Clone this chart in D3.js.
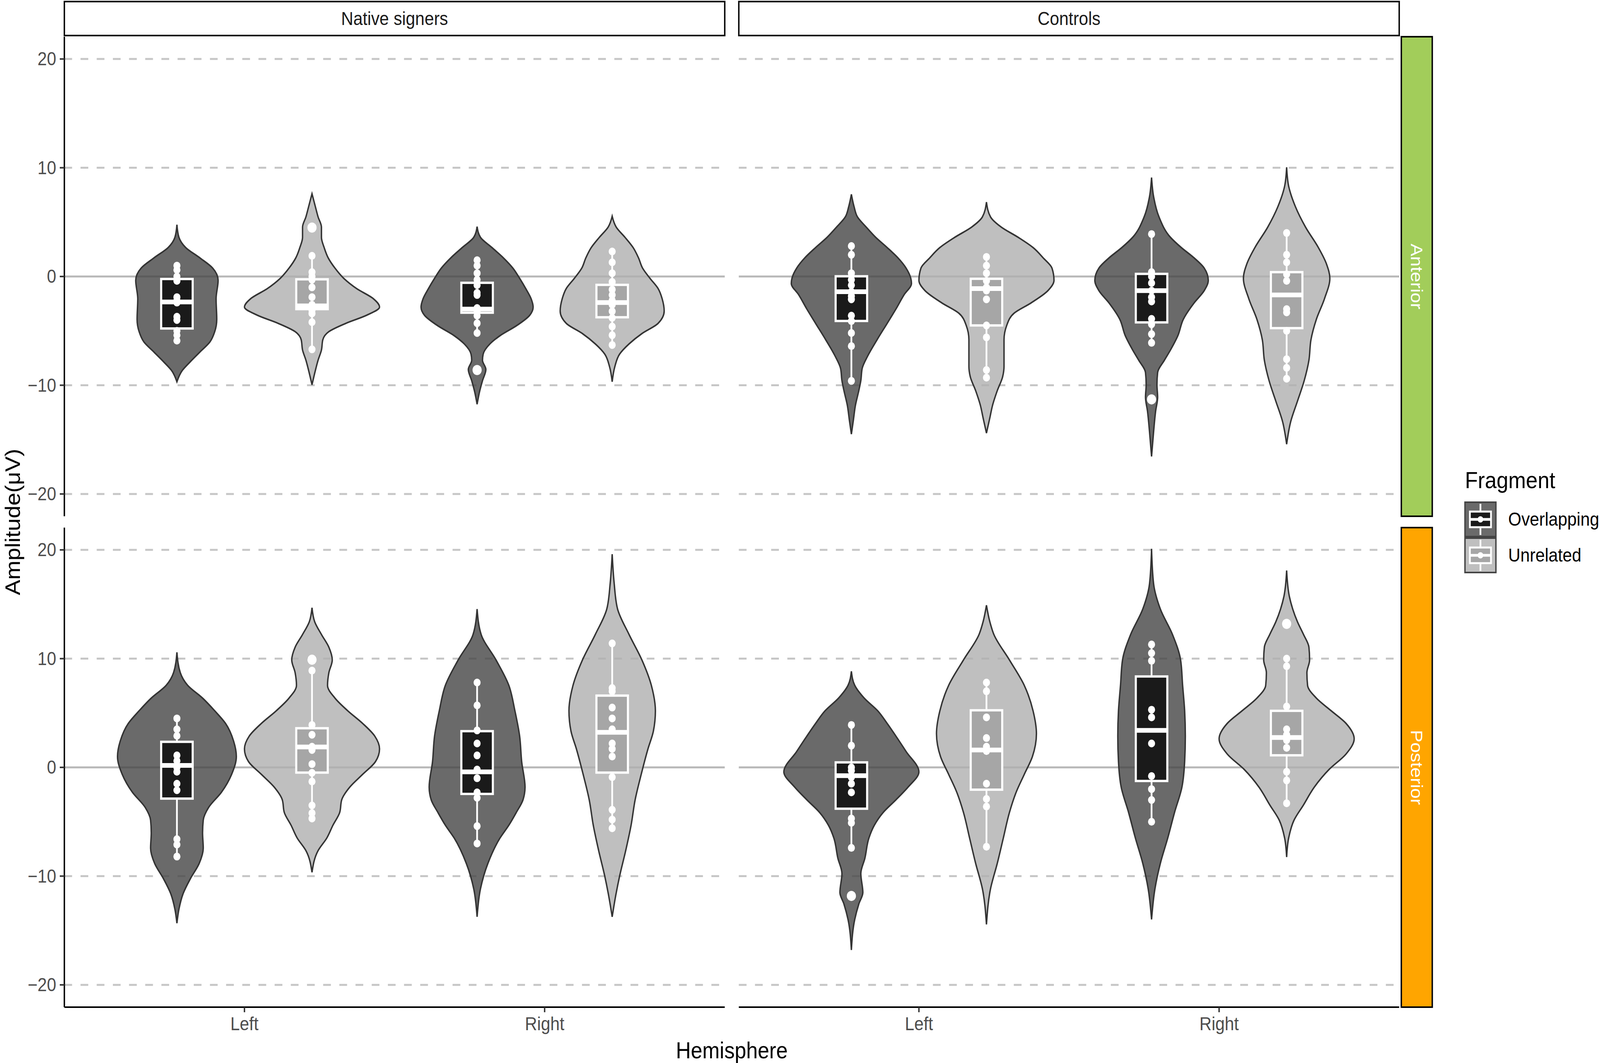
<!DOCTYPE html>
<html lang="en">
<head>
<meta charset="UTF-8">
<title>Amplitude by hemisphere, fragment and group</title>
<script src="https://d3js.org/d3.v7.min.js"></script>
<style>
  html, body { margin: 0; padding: 0; background: #fff; overflow: hidden; }
  svg { display: block; width: 100vw; height: 100vh; font-family: "Liberation Sans", Arial, Helvetica, sans-serif; }
</style>
</head>
<body>
<svg id="chart" viewBox="0 0 4550 2722" preserveAspectRatio="none"></svg>
<script>
// facets and categories
const groups = ["Native signers", "Controls"];
const regions = ["Anterior", "Posterior"];
const hemispheres = ["Left", "Right"];
const fragments = ["Overlapping", "Unrelated"];
const yTicks = [-20, -10, 0, 10, 20];

// violin outlines: [amplitude, relative density 0..1], top to bottom
// order: region, group, hemisphere, fragment
const violins = [
  // Anterior / Native signers
  [[4.76,0],[3.6,0.03],[2.66,0.13],[1.71,0.34],[0.77,0.53],[-0.36,0.61],[-2.05,0.58],[-3.94,0.59],[-5.07,0.56],[-6.01,0.49],[-6.95,0.34],[-7.89,0.19],[-8.64,0.08],[-9.68,0]],
  [[7.61,0],[6.42,0.05],[5.48,0.09],[4.54,0.14],[3.6,0.14],[2.66,0.18],[1.71,0.24],[0.77,0.34],[-0.17,0.47],[-1.11,0.66],[-2.05,0.91],[-2.81,1.0],[-3.56,0.81],[-4.31,0.5],[-5.07,0.25],[-5.82,0.16],[-6.76,0.14],[-7.7,0.09],[-8.64,0.05],[-9.96,0]],
  [[4.58,0],[3.6,0.05],[2.66,0.22],[1.71,0.39],[0.77,0.53],[-0.17,0.63],[-1.11,0.72],[-2.05,0.8],[-2.81,0.83],[-3.56,0.78],[-4.5,0.59],[-5.44,0.34],[-6.2,0.19],[-7.14,0.09],[-7.7,0.08],[-8.55,0.13],[-9.58,0.08],[-10.5,0.04],[-11.75,0]],
  [[5.54,0],[4.54,0.06],[3.6,0.19],[2.66,0.31],[1.71,0.39],[0.77,0.45],[-0.17,0.56],[-1.11,0.68],[-2.05,0.74],[-3.18,0.77],[-4.31,0.68],[-5.25,0.44],[-6.2,0.25],[-7.14,0.11],[-8.27,0.04],[-9.68,0]],
  // Anterior / Controls
  [[7.55,0],[6.42,0.04],[5.48,0.09],[4.54,0.22],[3.6,0.36],[2.66,0.53],[1.71,0.69],[0.77,0.81],[-0.17,0.88],[-0.64,0.89],[-1.68,0.78],[-2.99,0.66],[-4.31,0.53],[-5.82,0.38],[-7.33,0.24],[-8.46,0.16],[-9.58,0.14],[-10.5,0.11],[-11.85,0.06],[-13.2,0.03],[-14.5,0]],
  [[6.84,0],[5.48,0.06],[4.54,0.22],[3.6,0.47],[2.66,0.69],[1.71,0.84],[0.77,0.97],[-0.36,1.0],[-1.3,0.91],[-2.43,0.66],[-3.37,0.41],[-4.5,0.3],[-5.82,0.26],[-6.95,0.26],[-8.27,0.26],[-9.21,0.24],[-10.5,0.16],[-11.85,0.09],[-13.0,0.05],[-14.4,0]],
  [[9.1,0],[7.36,0.03],[5.48,0.11],[3.6,0.28],[2.66,0.44],[1.71,0.63],[0.77,0.78],[-0.36,0.84],[-1.3,0.78],[-2.43,0.63],[-3.94,0.47],[-5.44,0.39],[-6.76,0.28],[-7.7,0.19],[-8.83,0.09],[-9.96,0.08],[-11.1,0.09],[-12.4,0.06],[-14.3,0.03],[-16.55,0]],
  [[10.04,0],[8.3,0.03],[6.42,0.13],[4.54,0.28],[2.66,0.47],[1.15,0.59],[-0.17,0.64],[-2.05,0.56],[-3.94,0.44],[-5.82,0.36],[-7.7,0.33],[-9.58,0.26],[-11.47,0.16],[-13.35,0.06],[-15.42,0]],
  // Posterior / Native signers
  [[10.58,0],[8.71,0.05],[7.54,0.16],[6.37,0.38],[5.2,0.56],[4.04,0.72],[2.4,0.84],[1.0,0.88],[-0.64,0.81],[-2.28,0.66],[-3.68,0.47],[-4.85,0.39],[-6.02,0.38],[-7.43,0.39],[-8.83,0.33],[-10.23,0.2],[-11.64,0.09],[-13.04,0.03],[-14.33,0]],
  [[14.68,0],[13.39,0.04],[12.22,0.14],[11.05,0.25],[9.88,0.3],[8.71,0.25],[7.54,0.23],[6.37,0.34],[5.2,0.53],[4.04,0.75],[2.87,0.93],[1.7,1.0],[0.53,0.94],[-0.64,0.75],[-1.81,0.56],[-2.98,0.44],[-4.15,0.41],[-5.32,0.31],[-6.49,0.22],[-7.66,0.09],[-9.65,0]],
  [[14.56,0],[12.22,0.06],[9.88,0.28],[7.54,0.47],[5.2,0.56],[2.87,0.63],[0.53,0.66],[-1.81,0.71],[-2.98,0.68],[-4.15,0.58],[-5.32,0.47],[-6.49,0.34],[-8.83,0.16],[-11.17,0.05],[-13.74,0]],
  [[19.6,0],[16.9,0.03],[14.56,0.08],[12.22,0.25],[9.88,0.44],[7.54,0.58],[5.2,0.64],[3.33,0.61],[1.7,0.53],[-0.64,0.43],[-2.98,0.34],[-5.32,0.28],[-7.66,0.2],[-10.0,0.11],[-11.87,0.05],[-13.74,0]],
  // Posterior / Controls
  [[8.83,0],[7.54,0.05],[6.37,0.19],[5.2,0.39],[4.04,0.53],[2.87,0.66],[1.46,0.81],[-0.41,1.0],[-1.81,0.84],[-2.98,0.66],[-4.15,0.47],[-5.32,0.34],[-6.49,0.26],[-8.36,0.2],[-9.76,0.14],[-11.5,0.17],[-12.57,0.11],[-13.98,0.05],[-16.79,0]],
  [[14.91,0],[13.39,0.05],[12.22,0.11],[9.88,0.34],[7.54,0.56],[5.2,0.69],[3.1,0.74],[0.99,0.68],[-0.64,0.56],[-2.28,0.44],[-4.15,0.34],[-6.49,0.25],[-8.83,0.16],[-11.17,0.06],[-14.44,0]],
  [[20.1,0],[16.9,0.03],[14.56,0.13],[12.22,0.31],[9.88,0.43],[7.54,0.46],[5.2,0.49],[2.87,0.5],[0.53,0.49],[-1.81,0.45],[-4.15,0.34],[-6.49,0.24],[-8.83,0.13],[-11.17,0.05],[-13.98,0]],
  [[18.1,0],[15.73,0.04],[14.56,0.09],[13.39,0.16],[12.22,0.25],[11.05,0.33],[9.88,0.34],[8.71,0.3],[7.54,0.31],[6.37,0.44],[5.2,0.66],[4.04,0.88],[2.63,1.0],[1.23,0.88],[-0.18,0.63],[-1.81,0.41],[-3.45,0.25],[-4.85,0.11],[-6.49,0.03],[-8.25,0]]
];

// box plots: [lower whisker, Q1, median, Q3, upper whisker]
const boxStats = [
  [-6.0, -4.78, -2.34, -0.23, 1.15],
  [-6.7, -3.0, -2.7, -0.26, 1.9],
  [-5.25, -3.33, -3.0, -0.58, 1.62],
  [-6.3, -3.75, -2.4, -0.77, 2.4],
  [-9.6, -4.09, -1.4, 0.02, 2.88],
  [-9.3, -4.5, -1.11, -0.21, 1.9],
  [-6.1, -4.22, -1.3, 0.24, 3.88],
  [-9.4, -4.75, -1.7, 0.4, 4.2],
  [-8.25, -2.87, 0.18, 2.35, 4.62],
  [-4.74, -0.48, 1.88, 3.6, 8.95],
  [-6.96, -2.44, -0.41, 3.33, 7.82],
  [-5.67, -0.48, 3.22, 6.6, 11.6],
  [-7.38, -3.8, -0.76, 0.46, 3.92],
  [-7.31, -2.05, 1.6, 5.25, 7.78],
  [-5.02, -1.25, 3.4, 8.36, 11.33],
  [-3.33, 1.11, 2.75, 5.2, 10.07]
];

// individual subject amplitudes
const pointValues = [
  [1.0, 0.6, 0.0, -0.4, -1.9, -2.2, -2.4, -3.7, -4.0, -5.0, -5.4, -5.9],
  [1.9, 0.4, 0.0, -0.3, -1.0, -1.9, -2.6, -2.9, -3.1, -3.4, -4.2, -6.7],
  [1.5, 1.0, 0.3, -0.3, -0.8, -1.5, -1.7, -2.9, -3.2, -3.6, -4.3, -5.2],
  [2.3, 1.3, 0.3, -0.5, -1.2, -1.7, -2.2, -2.6, -3.2, -3.8, -4.6, -5.4, -6.3],
  [2.8, 2.0, 0.3, -0.3, -0.8, -1.4, -1.8, -2.1, -3.6, -4.1, -5.2, -6.4, -9.6],
  [1.8, 1.0, 0.3, -0.4, -1.0, -1.3, -2.1, -4.5, -5.6, -8.6, -9.3],
  [3.9, 0.4, 0.0, -0.6, -1.3, -1.9, -2.3, -3.9, -4.4, -5.3, -6.1],
  [4.0, 2.0, 1.3, 0.2, -0.4, -3.0, -3.3, -5.0, -7.6, -8.4, -9.4],
  [4.5, 3.5, 2.9, 1.1, 0.6, 0.0, -0.4, -1.5, -2.1, -6.6, -7.1, -8.2],
  [8.9, 3.9, 3.0, 1.9, 1.6, 0.3, -0.5, -1.3, -3.5, -4.2, -4.7],
  [7.8, 5.7, 3.4, 2.2, 1.1, -0.2, -1.0, -2.3, -2.8, -5.4, -7.0],
  [11.4, 7.3, 7.0, 5.5, 4.5, 3.5, 2.2, 1.7, 1.0, -0.9, -3.9, -4.8, -5.6],
  [3.9, 2.0, 0.0, -0.3, -0.9, -1.5, -2.3, -4.7, -5.1, -7.4],
  [7.8, 7.0, 4.6, 2.7, 1.9, 1.5, -1.5, -2.9, -3.6, -7.3],
  [11.3, 10.5, 9.8, 5.3, 4.6, 2.2, -0.8, -2.0, -3.0, -5.0],
  [10.0, 9.3, 5.6, 3.5, 3.0, 2.5, 1.8, -0.4, -1.2, -3.3]
];

// box plot outliers
const outlierValues = [
  [], [4.5], [-8.6], [],
  [], [], [-11.3], [],
  [], [9.9], [], [],
  [-11.82], [], [], [13.2]
];

// layout (in the 4550 x 2722 drawing space)
const colX = [183, 2101], panelW = 1878;
const rowY = [94, 1351], panelH = 1228;
const stripTop = 4, stripH = 87;
const stripRX = 3985, stripW = 88;

const svg = d3.select("#chart");

const x = d3.scaleLinear().domain([0.4, 2.6]).range([0, panelW]);
const y = d3.scaleLinear().domain([-22.05, 22.05]).range([panelH, 0]);
const dodge = d3.scaleOrdinal().domain(fragments).range([-0.225, 0.225]);
const halfW = d3.scaleLinear().domain([0, 1]).range([0, x(1.225) - x(1)]);
const boxHalf = x(1.0525) - x(1);
const violinFill = d3.scaleOrdinal().domain(fragments).range(["#454545", "#afafaf"]);
const boxFill = d3.scaleOrdinal().domain(fragments).range(["#1a1a1a", "#a6a6a6"]);
const keyFill = d3.scaleOrdinal().domain(fragments).range(["#6a6a6a", "#bfbfbf"]);
const regionColor = d3.scaleOrdinal().domain(regions).range(["#a2cd5a", "#ffa500"]);

regions.forEach((region, ri) => {
  groups.forEach((group, gi) => {
    const g = svg.append("g").attr("transform", `translate(${colX[gi]},${rowY[ri]})`);

    // dashed grid at the non-zero ticks
    g.selectAll("line.grid")
      .data(yTicks.filter(t => t !== 0))
      .enter().append("line")
      .attr("x1", 0).attr("x2", panelW)
      .attr("y1", d => y(d)).attr("y2", d => y(d))
      .attr("stroke", "#c6c6c6").attr("stroke-width", 5)
      .attr("stroke-dasharray", "22,24");

    // reference line at zero
    g.append("line")
      .attr("x1", 0).attr("x2", panelW)
      .attr("y1", y(0)).attr("y2", y(0))
      .attr("stroke", "#b8b8b8").attr("stroke-width", 5);

    hemispheres.forEach((hemi, hi) => {
      fragments.forEach((frag, fi) => {
        const idx = ri * 8 + gi * 4 + hi * 2 + fi;
        const cx = x(hi + 1 + dodge(frag));

        const area = d3.area()
          .curve(d3.curveMonotoneY)
          .y(d => y(d[0]))
          .x0(d => cx - halfW(d[1]))
          .x1(d => cx + halfW(d[1]));

        g.append("path")
          .datum(violins[idx])
          .attr("d", area)
          .attr("fill", violinFill(frag))
          .attr("fill-opacity", 0.8)
          .attr("stroke", "#333")
          .attr("stroke-width", 4);

        const [lo, q1, med, q3, up] = boxStats[idx];
        const bg = g.append("g");
        bg.append("line")
          .attr("x1", cx).attr("x2", cx)
          .attr("y1", y(up)).attr("y2", y(q3))
          .attr("stroke", "#fff").attr("stroke-width", 5);
        bg.append("line")
          .attr("x1", cx).attr("x2", cx)
          .attr("y1", y(q1)).attr("y2", y(lo))
          .attr("stroke", "#fff").attr("stroke-width", 5);
        bg.append("rect")
          .attr("x", cx - boxHalf).attr("width", boxHalf * 2)
          .attr("y", y(q3)).attr("height", y(q1) - y(q3))
          .attr("fill", boxFill(frag))
          .attr("stroke", "#fff").attr("stroke-width", 6);
        bg.append("line")
          .attr("x1", cx - boxHalf).attr("x2", cx + boxHalf)
          .attr("y1", y(med)).attr("y2", y(med))
          .attr("stroke", "#fff").attr("stroke-width", 12);

        bg.selectAll("circle.out")
          .data(outlierValues[idx])
          .enter().append("circle")
          .attr("cx", cx).attr("cy", d => y(d)).attr("r", 13)
          .attr("fill", "#fff");

        bg.selectAll("circle.pt")
          .data(pointValues[idx])
          .enter().append("circle")
          .attr("cx", cx).attr("cy", d => y(d)).attr("r", 10)
          .attr("fill", "#fff");
      });
    });

    // y axis on the first column
    if (gi === 0) {
      const axY = g.append("g");
      axY.append("line")
        .attr("x1", 0).attr("x2", 0).attr("y1", 0).attr("y2", panelH)
        .attr("stroke", "#000").attr("stroke-width", 4);
      axY.selectAll("line.tick")
        .data(yTicks).enter().append("line")
        .attr("x1", -13).attr("x2", 0)
        .attr("y1", d => y(d)).attr("y2", d => y(d))
        .attr("stroke", "#333").attr("stroke-width", 4);
      axY.selectAll("text")
        .data(yTicks).enter().append("text")
        .attr("x", -23).attr("y", d => y(d))
        .attr("text-anchor", "end").attr("dominant-baseline", "central")
        .attr("font-size", 48).attr("fill", "#4d4d4d")
        .text(d => d < 0 ? "\u2212" + Math.abs(d) : d);
    }

    // x axis on the bottom row
    if (ri === regions.length - 1) {
      const axX = g.append("g");
      axX.append("line")
        .attr("x1", 0).attr("x2", panelW).attr("y1", panelH).attr("y2", panelH)
        .attr("stroke", "#000").attr("stroke-width", 4);
      axX.selectAll("line.tick")
        .data(hemispheres).enter().append("line")
        .attr("x1", (d, i) => x(i + 1)).attr("x2", (d, i) => x(i + 1))
        .attr("y1", panelH).attr("y2", panelH + 13)
        .attr("stroke", "#333").attr("stroke-width", 4);
      axX.selectAll("text")
        .data(hemispheres).enter().append("text")
        .attr("x", (d, i) => x(i + 1)).attr("y", panelH + 43)
        .attr("text-anchor", "middle").attr("dominant-baseline", "central")
        .attr("font-size", 48).attr("fill", "#4d4d4d")
        .text(d => d);
    }
  });
});

// column strips
groups.forEach((group, gi) => {
  svg.append("rect")
    .attr("x", colX[gi]).attr("y", stripTop)
    .attr("width", panelW).attr("height", stripH)
    .attr("fill", "#fff").attr("stroke", "#000").attr("stroke-width", 4);
  svg.append("text")
    .attr("x", colX[gi] + panelW / 2).attr("y", stripTop + stripH / 2)
    .attr("text-anchor", "middle").attr("dominant-baseline", "central")
    .attr("font-size", 48).attr("fill", "#1a1a1a")
    .text(group);
});

// row strips
regions.forEach((region, ri) => {
  svg.append("rect")
    .attr("x", stripRX).attr("y", rowY[ri])
    .attr("width", stripW).attr("height", panelH)
    .attr("fill", regionColor(region)).attr("stroke", "#000").attr("stroke-width", 4);
  const tx = stripRX + stripW / 2, ty = rowY[ri] + panelH / 2;
  svg.append("text")
    .attr("transform", `translate(${tx},${ty}) rotate(90)`)
    .attr("text-anchor", "middle").attr("dominant-baseline", "central")
    .attr("font-size", 48).attr("fill", "#fff")
    .text(region);
});

// axis titles
svg.append("text")
  .attr("x", (colX[0] + colX[1] + panelW) / 2).attr("y", 2690)
  .attr("text-anchor", "middle").attr("dominant-baseline", "central")
  .attr("font-size", 59).attr("fill", "#000")
  .text("Hemisphere");

svg.append("text")
  .attr("transform", `translate(36,${(rowY[0] + rowY[1] + panelH) / 2}) rotate(-90)`)
  .attr("text-anchor", "middle").attr("dominant-baseline", "central")
  .attr("font-size", 59).attr("fill", "#000")
  .text("Amplitude(\u03bcV)");

// legend
const legend = svg.append("g").attr("transform", "translate(4166,1200)");
legend.append("text")
  .attr("x", 0).attr("y", 50)
  .attr("font-size", 60).attr("fill", "#000")
  .text("Fragment");

const keySize = 88;
fragments.forEach((frag, fi) => {
  const ky = 86 + fi * (keySize + 4);
  const k = legend.append("g").attr("transform", `translate(0,${ky})`);
  k.append("rect")
    .attr("x", 0).attr("y", 0).attr("width", keySize).attr("height", keySize)
    .attr("fill", keyFill(frag)).attr("stroke", "#444").attr("stroke-width", 4);
  k.append("line")
    .attr("x1", keySize / 2).attr("x2", keySize / 2).attr("y1", 4).attr("y2", keySize - 4)
    .attr("stroke", "#fff").attr("stroke-width", 5);
  k.append("rect")
    .attr("x", 14).attr("y", 24).attr("width", keySize - 28).attr("height", keySize - 48)
    .attr("fill", boxFill(frag)).attr("stroke", "#fff").attr("stroke-width", 5);
  k.append("line")
    .attr("x1", 14).attr("x2", keySize - 14).attr("y1", keySize / 2).attr("y2", keySize / 2)
    .attr("stroke", "#fff").attr("stroke-width", 7);
  k.append("circle")
    .attr("cx", keySize / 2).attr("cy", keySize / 2).attr("r", 8)
    .attr("fill", "#fff");
  legend.append("text")
    .attr("x", 123).attr("y", ky + keySize / 2)
    .attr("dominant-baseline", "central")
    .attr("font-size", 48).attr("fill", "#000")
    .text(frag);
});
</script>
</body>
</html>
